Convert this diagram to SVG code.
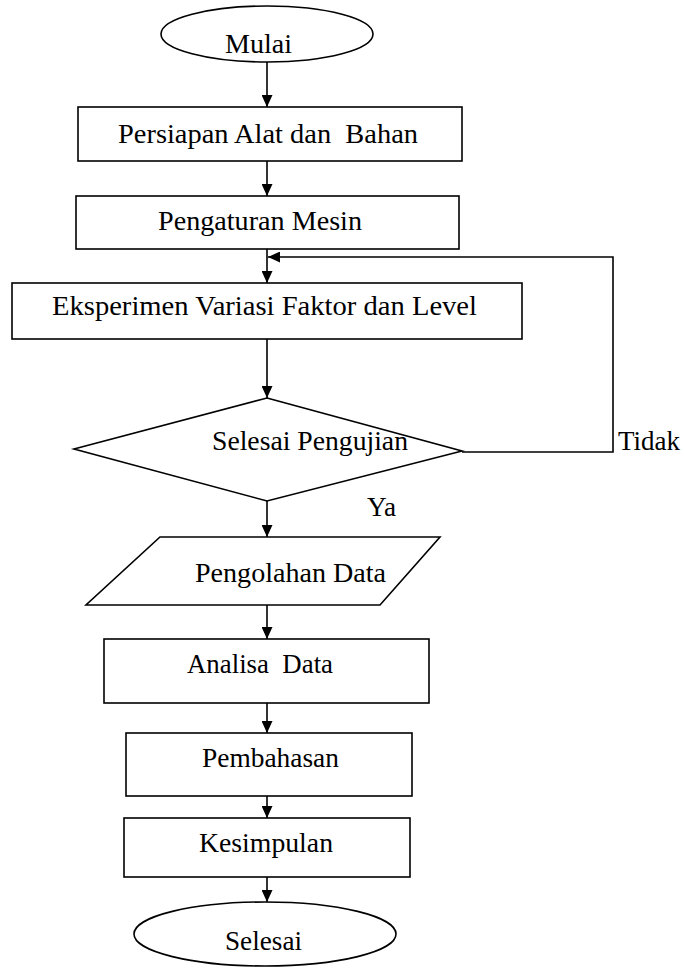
<svg xmlns="http://www.w3.org/2000/svg" width="684" height="976" viewBox="0 0 684 976">
<defs>
<marker id="ah" markerUnits="userSpaceOnUse" markerWidth="12" markerHeight="11" refX="12" refY="5.5" orient="auto">
<path d="M0,0 L12,5.5 L0,11 z" fill="#000"/>
</marker>
<style>
.s{fill:#fff;stroke:#000;stroke-width:1.6}
.c{fill:none;stroke:#000;stroke-width:1.6}
.a{marker-end:url(#ah)}
text{font-family:"Liberation Serif","Times New Roman",serif;font-size:27px;fill:#000;white-space:pre}
</style>
</defs>
<rect width="684" height="976" fill="#fff"/>
<g id="connectors">
<line class="c a" x1="267" y1="62" x2="267" y2="107"/>
<line class="c a" x1="267" y1="161" x2="267" y2="196"/>
<line class="c a" x1="267" y1="249" x2="267" y2="283"/>
<polyline class="c a" points="462,452 613,452 613,257 268,257"/>
<line class="c a" x1="267" y1="339" x2="267" y2="398"/>
<line class="c a" x1="267" y1="501" x2="267" y2="537"/>
<line class="c a" x1="267" y1="605" x2="267" y2="639"/>
<line class="c a" x1="267" y1="703" x2="267" y2="733"/>
<line class="c a" x1="267" y1="796" x2="267" y2="818"/>
<line class="c a" x1="267" y1="877" x2="267" y2="902"/>
<text x="618" y="450" textLength="62" lengthAdjust="spacingAndGlyphs">Tidak</text>
<text x="367" y="516" textLength="29" lengthAdjust="spacingAndGlyphs">Ya</text>
</g>
<g id="mulai">
<ellipse class="s" cx="267" cy="34" rx="106" ry="28"/>
<text x="225" y="53" textLength="67" lengthAdjust="spacingAndGlyphs">Mulai</text>
</g>
<g id="persiapan">
<rect class="s" x="78" y="107" width="384" height="54"/>
<text x="118" y="143" textLength="300" lengthAdjust="spacingAndGlyphs">Persiapan Alat dan  Bahan</text>
</g>
<g id="pengaturan">
<rect class="s" x="76" y="196" width="383" height="53"/>
<text x="158" y="230" textLength="204" lengthAdjust="spacingAndGlyphs">Pengaturan Mesin</text>
</g>
<g id="eksperimen">
<rect class="s" x="12" y="283" width="510" height="56"/>
<text x="52" y="315" textLength="425" lengthAdjust="spacingAndGlyphs">Eksperimen Variasi Faktor dan Level</text>
</g>
<g id="selesai-pengujian">
<polygon class="s" points="267,398 462,451 267,501 74,449"/>
<text x="212" y="450" textLength="196" lengthAdjust="spacingAndGlyphs">Selesai Pengujian</text>
</g>
<g id="pengolahan">
<polygon class="s" points="160,537 440,537 380,605 86,605"/>
<text x="195" y="582" textLength="191" lengthAdjust="spacingAndGlyphs">Pengolahan Data</text>
</g>
<g id="analisa">
<rect class="s" x="104" y="639" width="325" height="64"/>
<text x="187" y="673" textLength="146" lengthAdjust="spacingAndGlyphs">Analisa  Data</text>
</g>
<g id="pembahasan">
<rect class="s" x="126" y="733" width="286" height="63"/>
<text x="202" y="767" textLength="137" lengthAdjust="spacingAndGlyphs">Pembahasan</text>
</g>
<g id="kesimpulan">
<rect class="s" x="124" y="818" width="286" height="59"/>
<text x="199" y="852" textLength="134" lengthAdjust="spacingAndGlyphs">Kesimpulan</text>
</g>
<g id="selesai">
<ellipse class="s" cx="265" cy="934" rx="131" ry="32"/>
<text x="225" y="950" textLength="77" lengthAdjust="spacingAndGlyphs">Selesai</text>
</g>
</svg>
